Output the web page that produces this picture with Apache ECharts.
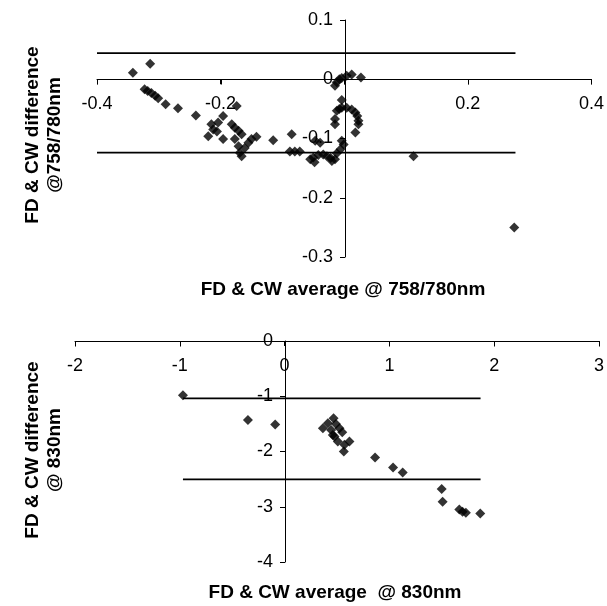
<!DOCTYPE html>
<html>
<head>
<meta charset="utf-8">
<script src="https://cdn.jsdelivr.net/npm/echarts@6/dist/echarts.min.js"></script>
<style>
html, body { margin: 0; padding: 0; background: #fff; }
#chart { width: 607px; height: 606px; }
</style>
</head>
<body>
<div id="chart"></div>
<script>
// upper plot, 758/780nm
var topAvg = [-0.342, -0.314, -0.323, -0.318, -0.312, -0.306, -0.301, -0.289, -0.269, -0.240,
	-0.174, -0.220, -0.212, -0.204, -0.196, -0.215, -0.206, -0.196,
	-0.182, -0.177, -0.171, -0.166, -0.177, -0.171, -0.169, -0.166, -0.161, -0.155, -0.150, -0.142,
	-0.115, -0.085, -0.088, -0.080, -0.072, -0.047, -0.039,
	-0.055, -0.050, -0.042, -0.034, -0.028, -0.022, -0.015, -0.012, -0.006, -0.001, -0.004, -0.048, -0.020,
	-0.015, -0.012, -0.004, 0.004, 0.012, 0.027, -0.008,
	-0.004, -0.012, -0.004, 0.004, 0.012, 0.018, 0.021, 0.023, 0.023, -0.015, -0.015, 0.018, -0.008,
	0.112, 0.275];
var topDiff = [0.011, 0.026, -0.017, -0.020, -0.023, -0.028, -0.032, -0.042, -0.049, -0.061,
	-0.045, -0.096, -0.085, -0.073, -0.062, -0.076, -0.088, -0.101,
	-0.076, -0.082, -0.087, -0.093, -0.101, -0.113, -0.124, -0.130, -0.116, -0.107, -0.101, -0.097,
	-0.103, -0.093, -0.122, -0.122, -0.122, -0.104, -0.107,
	-0.135, -0.132, -0.128, -0.127, -0.130, -0.133, -0.135, -0.125, -0.118, -0.110, -0.104, -0.140, -0.138,
	-0.011, -0.005, 0.002, 0.006, 0.008, 0.003, 0.000,
	-0.035, -0.053, -0.048, -0.048, -0.051, -0.056, -0.062, -0.070, -0.076, -0.067, -0.076, -0.090, -0.050,
	-0.130, -0.250];
var topLimits = [0.044, -0.124];
var topLimitX = [-0.4, 0.277];
var topXTicks = [-0.4, -0.2, 0, 0.2, 0.4];

// lower plot, 830nm
var botAvg = [-0.97, -0.35, -0.09, 0.365, 0.413, 0.467, 0.49, 0.524, 0.55, 0.444, 0.46, 0.476,
	0.508, 0.571, 0.619, 0.565, 0.863, 1.035, 1.127, 1.499, 1.508, 1.667, 1.698, 1.730, 1.867];
var botDiff = [-0.98, -1.43, -1.51, -1.58, -1.49, -1.40, -1.50, -1.58, -1.65, -1.61, -1.70, -1.73,
	-1.82, -1.88, -1.82, -2.00, -2.11, -2.29, -2.38, -2.68, -2.91, -3.05, -3.09, -3.11, -3.12];
var botLimits = [-1.04, -2.505];
var botLimitX = [-0.97, 1.87];
var botXTicks = [-2, -1, 0, 1, 2, 3];

var FONT = 'Liberation Sans';

// plot boxes (px); the axes cross at 0,0 inside them
var topBox = { left: 97, top: 20, width: 496, height: 237 };
var botBox = { left: 75, top: 341, width: 525, height: 221 };

function pairs(xs, ys) {
	var out = [];
	for (var i = 0; i < xs.length; i++) {
		out.push([xs[i], ys[i]]);
	}
	return out;
}

function limitLines(xr, levels, idx) {
	var list = [];
	for (var i = 0; i < levels.length; i++) {
		list.push({
			type: 'line',
			xAxisIndex: idx,
			yAxisIndex: idx,
			data: [[xr[0], levels[i]], [xr[1], levels[i]]],
			symbol: 'none',
			silent: true,
			lineStyle: { color: '#000', width: 1.8 }
		});
	}
	return list;
}

// offset that moves an axis from the grid edge to the zero of the other axis
function zeroOffset(box, min, max, vertical) {
	if (vertical) {
		return -box.width * (0 - min) / (max - min);
	}
	return -box.height * (0 - min) / (max - min);
}

function axis(idx, pos, offset, min, max, step, margin, hideZero) {
	return {
		type: 'value',
		gridIndex: idx,
		position: pos,
		offset: offset,
		min: min,
		max: max,
		interval: step,
		splitLine: { show: false },
		axisLine: { show: true, onZero: false, lineStyle: { color: '#000', width: 1 } },
		axisTick: { show: true, length: 5, lineStyle: { color: '#000' } },
		axisLabel: {
			color: '#000',
			fontFamily: FONT,
			fontSize: 18,
			margin: margin,
			formatter: function(v) {
				if (hideZero && v == 0) return '';
				return String(+v.toFixed(2));
			}
		}
	};
}

var chart = echarts.init(document.getElementById('chart'));
var series = [
	{
		type: 'scatter',
		xAxisIndex: 0,
		yAxisIndex: 0,
		symbol: 'diamond',
		symbolSize: 10,
		itemStyle: { color: '#000' },
		data: pairs(topAvg, topDiff)
	},
	{
		type: 'scatter',
		xAxisIndex: 1,
		yAxisIndex: 1,
		symbol: 'diamond',
		symbolSize: 10,
		itemStyle: { color: '#000' },
		data: pairs(botAvg, botDiff)
	}
].concat(limitLines(topLimitX, topLimits, 0), limitLines(botLimitX, botLimits, 1));

var titleStyle = {
	fill: '#000',
	font: 'bold 19px "' + FONT + '"',
	textAlign: 'center',
	textVerticalAlign: 'middle',
	lineHeight: 22
};

var titles = [
	{ type: 'text', x: 44, y: 135, rotation: Math.PI / 2,
		style: Object.assign({ text: 'FD & CW difference\n@758/780nm' }, titleStyle) },
	{ type: 'text', x: 343, y: 290,
		style: Object.assign({ text: 'FD & CW average @ 758/780nm' }, titleStyle) },
	{ type: 'text', x: 44, y: 450, rotation: Math.PI / 2,
		style: Object.assign({ text: 'FD & CW difference\n@ 830nm' }, titleStyle) },
	{ type: 'text', x: 335, y: 593,
		style: Object.assign({ text: 'FD & CW average  @ 830nm' }, titleStyle) }
];

chart.setOption({
	animation: false,
	backgroundColor: '#fff',
	grid: [topBox, botBox],
	xAxis: [
		axis(0, 'bottom', zeroOffset(topBox, -0.3, 0.1, false), -0.4, 0.4, 0.2, 16, true),
		axis(1, 'bottom', zeroOffset(botBox, -4, 0, false), -2, 3, 1, 16, false)
	],
	yAxis: [
		axis(0, 'left', zeroOffset(topBox, -0.4, 0.4, true), -0.3, 0.1, 0.1, 12, false),
		axis(1, 'left', zeroOffset(botBox, -2, 3, true), -4, 0, 1, 12, false)
	],
	series: series,
	graphic: titles
});

// x axis line at y = 0 with ticks below, placed through the chart's own scales
function zeroAxisGraphics(ticks, idx) {
	var out = [];
	var a = chart.convertToPixel({ gridIndex: idx }, [ticks[0], 0]);
	var b = chart.convertToPixel({ gridIndex: idx }, [ticks[ticks.length - 1], 0]);
	var y = Math.round(a[1]) + 0.5;
	out.push({
		type: 'line', z: 100, silent: true,
		shape: { x1: a[0], y1: y, x2: b[0], y2: y },
		style: { stroke: '#000', lineWidth: 1 }
	});
	for (var i = 0; i < ticks.length; i++) {
		var p = chart.convertToPixel({ gridIndex: idx }, [ticks[i], 0]);
		var x = Math.round(p[0]) + 0.5;
		out.push({
			type: 'line', z: 100, silent: true,
			shape: { x1: x, y1: y, x2: x, y2: y + 5 },
			style: { stroke: '#000', lineWidth: 1 }
		});
	}
	return out;
}

chart.setOption({
	graphic: titles.concat(zeroAxisGraphics(topXTicks, 0), zeroAxisGraphics(botXTicks, 1))
});
</script>
</body>
</html>
